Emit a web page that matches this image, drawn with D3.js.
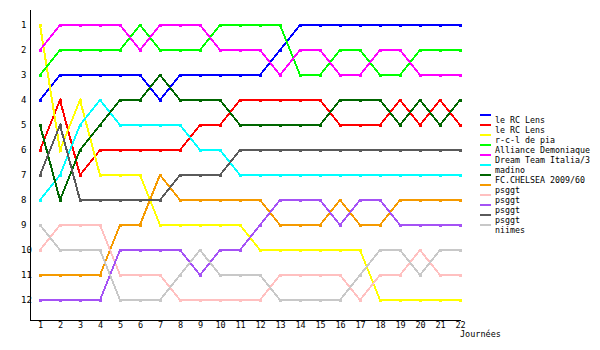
<!DOCTYPE html>
<html>
<head>
<meta charset="UTF-8">
<title>classement</title>
<script src="https://cdn.jsdelivr.net/npm/d3@7"></script>
<style>
  body { margin: 0; background: #fff; }
  text { font-family: "DejaVu Sans Mono", monospace; }
</style>
</head>
<body>
<svg id="svg" width="600" height="350"></svg>
<script>
// journées 1..22, classement 1..12
const rounds = d3.range(1, 23);
const ranks = d3.range(1, 13);

const names = ["le RC Lens", "le RC Lens", "r-c-l de pia", "Alliance Demoniaque", "Dream Team Italia/3",
  "madino", "FC.CHELSEA 2009/60", "psggt", "psggt", "psggt", "psggt", "niimes"];
const colors = ["#0000ff", "#ff0000", "#ffff00", "#00ff00", "#ff00ff", "#00ffff",
  "#006600", "#f59a00", "#ffc0c0", "#a552f5", "#5a5a5a", "#c8c8c8"];

const lensBlue    = [4,3,3,3,3,3,4,3,3,3,3,3,2,1,1,1,1,1,1,1,1,1];
const lensRed     = [6,4,7,6,6,6,6,6,5,5,4,4,4,4,4,5,5,5,4,5,4,5];
const rclPia      = [1,6,4,7,7,7,9,9,9,9,9,10,10,10,10,10,10,12,12,12,12,12];
const alliance    = [3,2,2,2,2,1,2,2,2,1,1,1,1,3,3,2,2,3,3,2,2,2];
const dreamTeam   = [2,1,1,1,1,2,1,1,1,2,2,2,3,2,2,3,3,2,2,3,3,3];
const madino      = [8,7,5,4,5,5,5,5,6,6,7,7,7,7,7,7,7,7,7,7,7,7];
const chelsea     = [5,8,6,5,4,4,3,4,4,4,5,5,5,5,5,4,4,4,5,4,5,4];
const psggtOrange = [11,11,11,11,9,9,7,8,8,8,8,8,9,9,9,8,9,9,8,8,8,8];
const psggtPink   = [10,9,9,9,11,11,11,12,12,12,12,12,11,11,11,11,12,11,11,10,11,11];
const psggtPurple = [12,12,12,12,10,10,10,10,11,10,10,9,8,8,8,9,8,8,9,9,9,9];
const psggtGray   = [7,5,8,8,8,8,8,7,7,7,6,6,6,6,6,6,6,6,6,6,6,6];
const niimes      = [9,10,10,10,12,12,12,11,10,11,11,11,12,12,12,12,11,10,10,11,10,10];

const series = [lensBlue, lensRed, rclPia, alliance, dreamTeam, madino, chelsea,
  psggtOrange, psggtPink, psggtPurple, psggtGray, niimes];

const svg = d3.select("#svg");

const x = d3.scaleLinear().domain([1, 22]).range([40, 460]);
const y = d3.scaleLinear().domain([1, 12]).range([25, 300]);

// axes
const x0 = x(1) - 10, yBottom = y(12) + 20, yTop = y(1) - 15;

const yAxis = svg.append("g")
  .attr("transform", `translate(${x0},0)`)
  .call(d3.axisLeft(y).tickValues(ranks).tickSize(0).tickFormat(d3.format("d")));
yAxis.select(".domain").remove();
yAxis.selectAll("text")
  .attr("x", -9)
  .attr("text-anchor", "start")
  .attr("font-size", 9)
  .attr("font-family", "DejaVu Sans Mono, monospace")
  .attr("fill", "#000");

const xAxis = svg.append("g")
  .attr("transform", `translate(0,${yBottom})`)
  .call(d3.axisBottom(x).tickValues(rounds).tickSize(0).tickFormat(d3.format("d")));
xAxis.select(".domain").remove();
xAxis.selectAll("text")
  .attr("y", 2)
  .attr("dy", "0.71em")
  .attr("font-size", 8.5)
  .attr("font-family", "DejaVu Sans Mono, monospace")
  .attr("fill", "#000");

svg.append("line")
  .attr("x1", x0 + 0.5).attr("x2", x0 + 0.5)
  .attr("y1", yTop).attr("y2", yBottom)
  .attr("stroke", "#000").attr("stroke-width", 1);
svg.append("line")
  .attr("x1", x0).attr("x2", x(22) + 1)
  .attr("y1", yBottom + 0.5).attr("y2", yBottom + 0.5)
  .attr("stroke", "#000").attr("stroke-width", 1);

svg.append("text")
  .attr("x", x(22))
  .attr("y", yBottom + 17)
  .attr("font-size", 8.5)
  .text("Journées");

// courbes
const line = d3.line()
  .x((d, i) => x(rounds[i]))
  .y(d => y(d));

const g = svg.append("g");
series.forEach((s, k) => {
  g.append("path")
    .attr("d", line(s))
    .attr("fill", "none")
    .attr("stroke", colors[k])
    .attr("stroke-width", 2)
    .attr("shape-rendering", "crispEdges");
  g.selectAll(null)
    .data(s)
    .enter().append("rect")
    .attr("x", (d, i) => x(rounds[i]) - 1.5)
    .attr("y", d => y(d) - 1.5)
    .attr("width", 3)
    .attr("height", 3)
    .attr("fill", colors[k])
    .attr("shape-rendering", "crispEdges");
});

// légende
const legend = svg.append("g").attr("transform", "translate(480,114)");
names.forEach((n, k) => {
  legend.append("rect")
    .attr("x", 0).attr("y", k * 10)
    .attr("width", 11).attr("height", 2)
    .attr("fill", colors[k]);
  legend.append("text")
    .attr("x", 15).attr("y", k * 10 + 9)
    .attr("font-size", 8.3)
    .text(n);
});
</script>
</body>
</html>
